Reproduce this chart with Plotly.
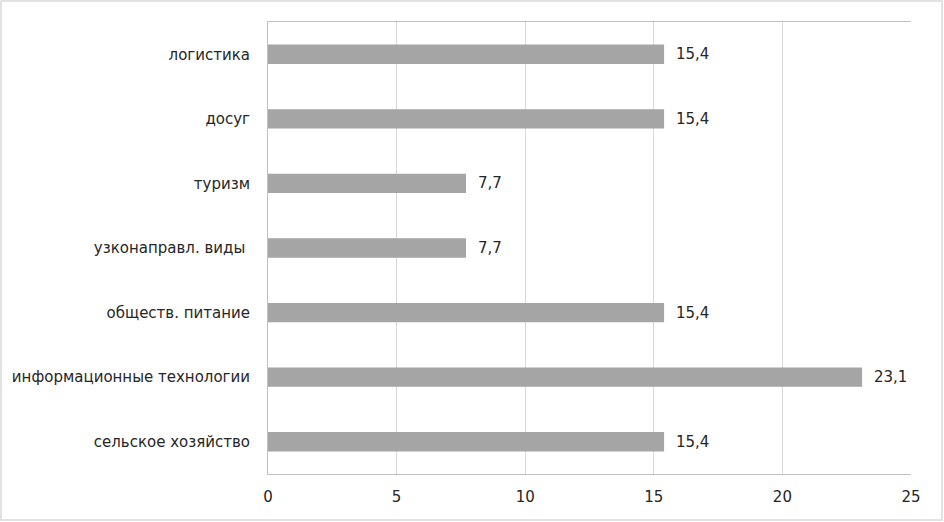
import plotly.graph_objects as go

categories = ["сельское хозяйство", "информационные технологии", "обществ. питание",
              "узконаправл. виды ", "туризм", "досуг", "логистика"]
values = [15.4, 23.1, 15.4, 7.7, 7.7, 15.4, 15.4]
x_ticks = [0, 5, 10, 15, 20, 25]

W, H = 944, 522
L, R, T, B = 268, 33, 22, 48
pw, ph = W - L - R, H - T - B
FONT = "DejaVu Sans"
TXT = "#262626"

fig = go.Figure(go.Bar(
    y=categories, x=values, orientation="h",
    marker=dict(color="#a5a5a5", line=dict(width=0)),
    width=0.3,
    hoverinfo="x+y",
))

annotations = [dict(x=v, y=c, xref="x", yref="y", text=f"{v:.1f}".replace(".", ","),
                    showarrow=False, xanchor="left", yanchor="middle", xshift=10,
                    font=dict(family=FONT, size=15, color=TXT))
               for c, v in zip(categories, values)]

fig.update_layout(
    width=W, height=H,
    margin=dict(l=L, r=R, t=T, b=B),
    paper_bgcolor="white", plot_bgcolor="white",
    showlegend=False,
    separators=", ",
    font=dict(family=FONT, size=15, color=TXT),
    xaxis=dict(range=[0, 25], tickvals=x_ticks, showgrid=True, gridcolor="#d9d9d9",
               gridwidth=1, zeroline=False, showline=True, linecolor="#bfbfbf",
               mirror=True, ticks="", ticklabelstandoff=9),
    yaxis=dict(categoryorder="array", categoryarray=categories, showgrid=False,
               showline=True, linecolor="#bfbfbf", ticks="", ticklabelstandoff=14),
    annotations=annotations,
    shapes=[dict(type="rect", xref="paper", yref="paper",
                 x0=(1 - L) / pw, x1=(W - 2 - L) / pw,
                 y0=-(H - 2 - T - ph) / ph, y1=1 + (T - 1) / ph,
                 line=dict(color="#d9d9d9", width=1.5))],
)

fig.write_html("out.html", config={"displayModeBar": False},
               post_script="document.body.style.margin='0';document.body.style.overflow='hidden';")
